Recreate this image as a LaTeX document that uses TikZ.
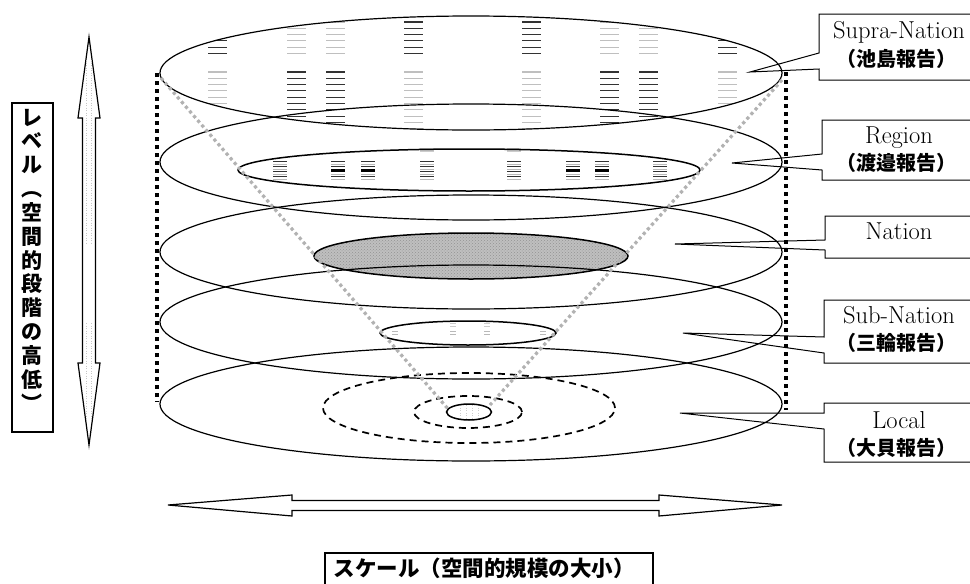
\documentclass[tikz,border=0pt]{standalone}
\usepackage{fontspec}
\newfontfamily\jp{Noto Sans CJK JP}
\usetikzlibrary{patterns}
\begin{document}
\begin{tikzpicture}[x=1pt,y=-1pt,
  disk/.style={draw=black, line width=1.2pt},
  innerring/.style={draw=black, line width=1.5pt},
  dashring/.style={draw=black, line width=1.7pt, dash pattern=on 7pt off 5pt},
  bdots/.style={draw=black, line width=3.6pt, dash pattern=on 3.6pt off 4.4pt},
  gdots/.style={draw=gray!60, line width=3.2pt, dash pattern=on 3.2pt off 3pt},
  callout/.style={draw=black, line width=1pt, line join=miter},
  en/.style={font=\fontsize{24.5}{27}\selectfont, inner sep=0pt, anchor=base},
  ja/.style={font=\jp\bfseries\fontsize{20}{22}\selectfont, inner sep=0pt},
  vj/.style={font=\jp\bfseries\fontsize{21}{23.83}\selectfont, inner sep=0pt, align=center},
  darkh/.style={draw=black!80, line width=1.1pt},
  lighth/.style={draw=gray!50, line width=1.1pt},
  bigarrow/.style={draw=black, line width=1.2pt, line join=miter, fill=white},
]
\useasboundingbox (0,0) rectangle (970,584);
\clip (0,0) rectangle (970,584);

% ---------- hatch pattern in the top (Supra-Nation) disk ----------
\begin{scope}
  \clip (471,73) ellipse [x radius=311pt, y radius=57pt];
  \foreach \cx in {208,404,522,718} {
    \foreach \yy in {22,28.3,...,54} \draw[darkh] (\cx,\yy) -- ++(19,0);
    \foreach \yy in {72,78.3,...,131} \draw[lighth] (\cx,\yy) -- ++(19,0);
  }
  \foreach \cx in {287,326,600,639} {
    \foreach \yy in {22,28.3,...,54} \draw[lighth] (\cx,\yy) -- ++(19,0);
    \foreach \yy in {72,78.3,...,131} \draw[darkh] (\cx,\yy) -- ++(19,0);
  }
\end{scope}

% ---------- hatch pattern in the Region inner ellipse ----------
\fill[gray!40] (420,148) rectangle ++(14,4);
\fill[gray!40] (507,148) rectangle ++(14,4);
\begin{scope}
  \clip (469,170) ellipse [x radius=231pt, y radius=21pt];
  \foreach \cx in {273,331,361,420,507,566,595,653} {
    \foreach \yy in {161.5,166.5,...,181} \draw[draw=black!80, line width=0.9pt] (\cx,\yy) -- ++(14,0);
    \foreach \yy in {164,169,...,181} \draw[draw=gray!55, line width=0.9pt] (\cx,\yy) -- ++(14,0);
  }
  \foreach \cx in {331,361,566,595} \fill[black] (\cx,168.5) rectangle ++(14,3.5);
\end{scope}

% ---------- shaded Nation inner ellipse ----------
\path[preaction={fill=gray!50}, pattern=crosshatch dots, pattern color=gray!85]
  (471,256) ellipse [x radius=157pt, y radius=23pt];

% ---------- faint marks in Sub-Nation and Local inner ellipses ----------
\foreach \mx in {395,453,487,543} {
  \draw[gray!55, line width=0.8pt] (\mx-3,331.5) -- ++(6,0) (\mx-3,334.5) -- ++(6,0);
}
\foreach \mx in {453,487} {
  \draw[gray!40, line width=0.8pt] (\mx-3,323.5) -- ++(6,0) (\mx-3,326.5) -- ++(6,0);
}
\foreach \mx in {460,466,472,478} {
  \draw[gray!40, line width=0.7pt, dash pattern=on 1pt off 1.5pt] (\mx,405) -- (\mx,419);
}

% ---------- big disks ----------
\draw[disk] (471,73)  ellipse [x radius=311pt, y radius=57pt];
\draw[disk] (471,162) ellipse [x radius=311pt, y radius=58pt];
\draw[disk] (471,252) ellipse [x radius=311pt, y radius=57pt];
\draw[disk] (471,322) ellipse [x radius=311pt, y radius=57pt];
\draw[disk] (471,404) ellipse [x radius=311pt, y radius=57pt];

% ---------- inner ellipses ----------
\draw[innerring] (469,170) ellipse [x radius=231pt, y radius=21pt];
\draw[innerring] (471,256) ellipse [x radius=157pt, y radius=23pt];
\draw[innerring] (468,333) ellipse [x radius=88pt, y radius=12pt];
\draw[dashring]  (469,408) ellipse [x radius=146pt, y radius=35pt];
\draw[dashring]  (468,412) ellipse [x radius=54pt, y radius=16pt];
\draw[innerring] (469,412) ellipse [x radius=22.5pt, y radius=8pt];

% ---------- black dotted verticals ----------
\coordinate (vl1) at (157,73);
\coordinate (vl2) at (157,402);
\coordinate (vr1) at (786,72);
\coordinate (vr2) at (786,410);
\draw[bdots] (vl1) -- (vl2);
\draw[bdots] (vr1) -- (vr2);

% ---------- grey dotted cone ----------
\coordinate (cl1) at (161,78);
\coordinate (cl2) at (449,410);
\coordinate (cr1) at (782,80);
\coordinate (cr2) at (490,405);
\draw[gdots] (cl1) -- (cl2);
\draw[gdots] (cr1) -- (cr2);

% ---------- callouts ----------
\coordinate (t1) at (750,72);
\coordinate (t2) at (732,163);
\coordinate (t3) at (675,244);
\coordinate (t4) at (683,333);
\coordinate (t5) at (680,413);
\draw[callout] (819,14) -- (976,14) -- (976,80) -- (819,80) -- (819,69) -- (t1) -- (819,53) -- cycle;
\draw[callout] (822,120) -- (976,120) -- (976,180) -- (822,180) -- (822,170) -- (t2) -- (822,154) -- cycle;
\draw[callout] (825,216) -- (976,216) -- (976,258) -- (825,258) -- (825,250) -- (t3) -- (825,240) -- cycle;
\draw[callout] (824,300) -- (976,300) -- (976,363) -- (824,363) -- (824,353) -- (t4) -- (824,337) -- cycle;
\draw[callout] (824,403) -- (976,403) -- (976,462) -- (824,462) -- (824,429) -- (t5) -- (824,413) -- cycle;

\node[en] (supra) at (899,38.3) {Supra-Nation};
\node[ja] (ikeshima) at (896,59) {（池島報告）};
\node[en] (region) at (899,143) {Region};
\node[ja] (watanabe) at (896,163) {（渡邉報告）};
\node[en] (nation) at (899,239) {Nation};
\node[en] (subnation) at (899,323) {Sub-Nation};
\node[ja] (miwa) at (896,343) {（三輪報告）};
\node[en] (local) at (899,428) {Local};
\node[ja] (ogai) at (896,448) {（大貝報告）};

% ---------- vertical double arrow ----------
\draw[bigarrow] (89,37) -- (100,118) -- (95.5,118) -- (95.5,363) -- (100,363) -- (89,445)
  -- (78,363) -- (82.5,363) -- (82.5,118) -- (78,118) -- cycle;
\draw[gray!45, line width=0.6pt, dash pattern=on 1pt off 1.5pt] (86.5,60) -- (86.5,243) (91.5,60) -- (91.5,243)
  (86.5,323) -- (86.5,420) (91.5,323) -- (91.5,420);

% ---------- vertical label ----------
\node[draw=black, line width=1.2pt, minimum width=41pt, minimum height=329pt, inner sep=0pt] (levelbox) at (32.5,267.5) {};
\node[vj] (level) at (32,260) {レ\\ベ\\ル\\︵\\空\\間\\的\\段\\階\\の\\高\\低\\︶};

% ---------- horizontal double arrow ----------
\draw[bigarrow] (168,505) -- (292,495) -- (292,500.5) -- (659,500.5) -- (659,495) -- (782,505)
  -- (659,516) -- (659,510.5) -- (292,510.5) -- (292,516) -- cycle;

% ---------- bottom label ----------
\node[draw=black, line width=1.2pt, minimum width=328pt, minimum height=44pt, inner sep=0pt] (scalebox) at (489,575) {};
\node[font=\jp\bfseries\fontsize{21.5}{24}\selectfont, inner sep=0pt] (scale) at (484,568) {スケール（空間的規模の大小）};
\end{tikzpicture}
\end{document}
